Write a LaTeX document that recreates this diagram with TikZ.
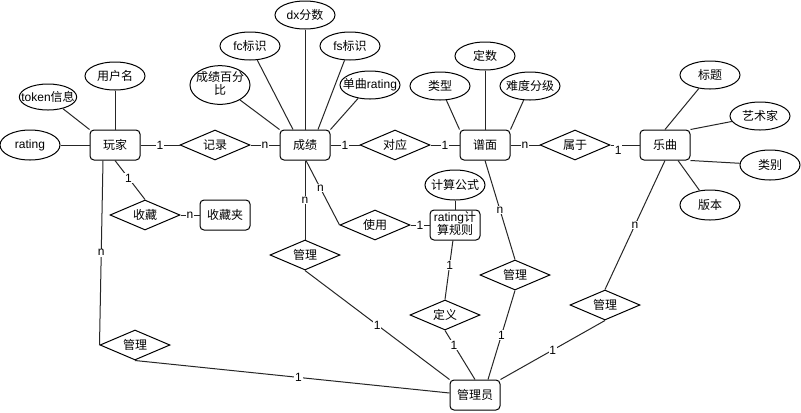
\documentclass[tikz,border=0pt]{standalone}
\usepackage{fontspec}
\setmainfont{Noto Sans CJK SC}
\newfontfamily\lat{Liberation Sans}
\usetikzlibrary{shapes.geometric,calc}
\newcommand\zt[1]{\makebox[0pt]{#1}}
\newcommand\ztt[2]{\makebox[0pt]{\begin{tabular}{@{}c@{}}#1\\[-1.5pt]#2\end{tabular}}}
\tikzset{
  base/.style={draw=black,line width=0.75pt,inner sep=0pt,font=\fontsize{9pt}{11pt}\selectfont,fill=white},
  ent/.style={base,rectangle,rounded corners=3pt,minimum width=37.5pt,minimum height=22.5pt},
  rel/.style={base,diamond,minimum width=52.5pt,minimum height=22.5pt},
  attr/.style={base,ellipse,minimum width=45pt,minimum height=21pt},
  edge/.style={draw=black!85,line width=0.75pt},
  lbl/.style={fill=white,inner sep=0.6pt,font=\fontsize{9pt}{11pt}\lat}
}
\begin{document}
\begin{tikzpicture}[x=0.75pt,y=-0.75pt]
\useasboundingbox (0,0) rectangle (801,412);
\fill[white] (0,0) rectangle (801,412);
% entities
\node[ent] (wj) at (115,145) {\zt{玩家}};
\node[ent] (cj) at (305,145) {\zt{成绩}};
\node[ent] (pm) at (485,145) {\zt{谱面}};
\node[ent] (yq) at (665,145) {\zt{乐曲}};
\node[ent] (scj) at (225,215) {\zt{收藏夹}};
\node[ent] (gz) at (455,225) {\ztt{{\lat rating}计}{算规则}};
\node[ent] (gly) at (475,395) {\zt{管理员}};
% relations
\node[rel] (jl) at (215,145) {\zt{记录}};
\node[rel] (dyg) at (395,145) {\zt{对应}};
\node[rel] (sy) at (575,145) {\zt{属于}};
\node[rel] (sc) at (145,215) {\zt{收藏}};
\node[rel] (shy) at (375,225) {\zt{使用}};
\node[rel] (gla) at (135,345) {\zt{管理}};
\node[rel] (glb) at (305,255) {\zt{管理}};
\node[rel] (dy) at (445,315) {\zt{定义}};
\node[rel] (glc) at (515,275) {\zt{管理}};
\node[rel] (gld) at (605,305) {\zt{管理}};
% attributes
\node[attr,minimum height=22.5pt] (rat) at (30,145) {\zt{\lat rating}};
\node[attr,minimum width=43pt,minimum height=19.5pt] (tok) at (48,97) {\zt{{\lat token}信息}};
\node[attr] (yhm) at (115,76) {\zt{用户名}};
\node[attr,minimum height=22.5pt] (cjbf) at (220,85) {\ztt{成绩百分}{比}};
\node[attr] (fc) at (250,46) {\zt{{\lat fc}标识}};
\node[attr] (dx) at (305,15) {\zt{{\lat dx}分数}};
\node[attr] (fs) at (350,46) {\zt{{\lat fs}标识}};
\node[attr] (dqr) at (370,85) {\zt{单曲{\lat rating}}};
\node[attr] (lx) at (440,86) {\zt{类型}};
\node[attr] (ds) at (485,56) {\zt{定数}};
\node[attr] (ndfj) at (530,86) {\zt{难度分级}};
\node[attr] (bt) at (710,75) {\zt{标题}};
\node[attr] (ysj) at (760,116) {\zt{艺术家}};
\node[attr,minimum height=22.5pt] (lb) at (770,165) {\zt{类别}};
\node[attr,minimum height=22.5pt] (bb) at (710,205) {\zt{版本}};
\node[attr,minimum height=22.5pt] (jsgs) at (455,185) {\zt{计算公式}};
% attribute edges
\path[edge] (rat) -- (wj);
\path[edge] (tok) -- (wj.north west);
\path[edge] (yhm) -- (wj);
\path[edge] (cjbf) -- (cj.north west);
\path[edge] (fc) -- ($(cj.north)+(-12,0)$);
\path[edge] (dx) -- (cj);
\path[edge] (fs) -- ($(cj.north)+(13,0)$);
\path[edge] (dqr) -- (cj.north east);
\path[edge] (lx) -- (pm.north west);
\path[edge] (ds) -- (pm);
\path[edge] (ndfj) -- (pm.north east);
\path[edge] (bt) -- (yq.north);
\path[edge] (ysj) -- (yq.north east);
\path[edge] (lb) -- (yq.south east);
\path[edge] (bb) -- ($(yq.south)+(13,0)$);
\path[edge] (jsgs) -- (gz);
% relation edges
\path[edge] (wj) -- node[lbl]{1} (jl);
\path[edge] (jl) -- node[lbl]{n} (cj);
\path[edge] (wj.south) -- node[lbl,pos=.45]{1} (sc.north);
\path[edge] (sc) -- node[lbl]{n} (scj);
\path[edge] ($(wj.south)+(-12,0)$) -- node[lbl]{n} (gla.west);
\path[edge] (gla.south) -- node[lbl,pos=.52]{1} ($(gly.west)+(0,-2)$);
\path[edge] (cj) -- node[lbl]{1} (dyg);
\path[edge] (dyg) -- node[lbl]{1} (pm);
\path[edge] (cj) -- node[lbl]{n} (glb);
\path[edge] (glb.south) -- node[lbl]{1} (gly.north west);
\path[edge] ($(cj.south)+(1,0)$) -- node[lbl,pos=.43]{n} (shy.west);
\path[edge] (shy) -- node[lbl]{1} (gz);
\path[edge] (gz) -- node[lbl,pos=.42]{1} (dy.north);
\path[edge] (dy.south) -- node[lbl,pos=.3]{1} (gly.north);
\path[edge] (pm) -- node[lbl]{n} (sy);
\path[edge] (sy) -- node[lbl,pos=.27,yshift=-4pt]{1} (yq);
\path[edge] (pm.south) -- node[lbl]{n} (glc.north);
\path[edge] (glc.south) -- node[lbl]{1} ($(gly.north)+(13,0)$);
\path[edge] (yq.south) -- node[lbl]{n} (gld.north);
\path[edge] (gld.south) -- node[lbl]{1} (gly.north east);
\end{tikzpicture}
\end{document}
